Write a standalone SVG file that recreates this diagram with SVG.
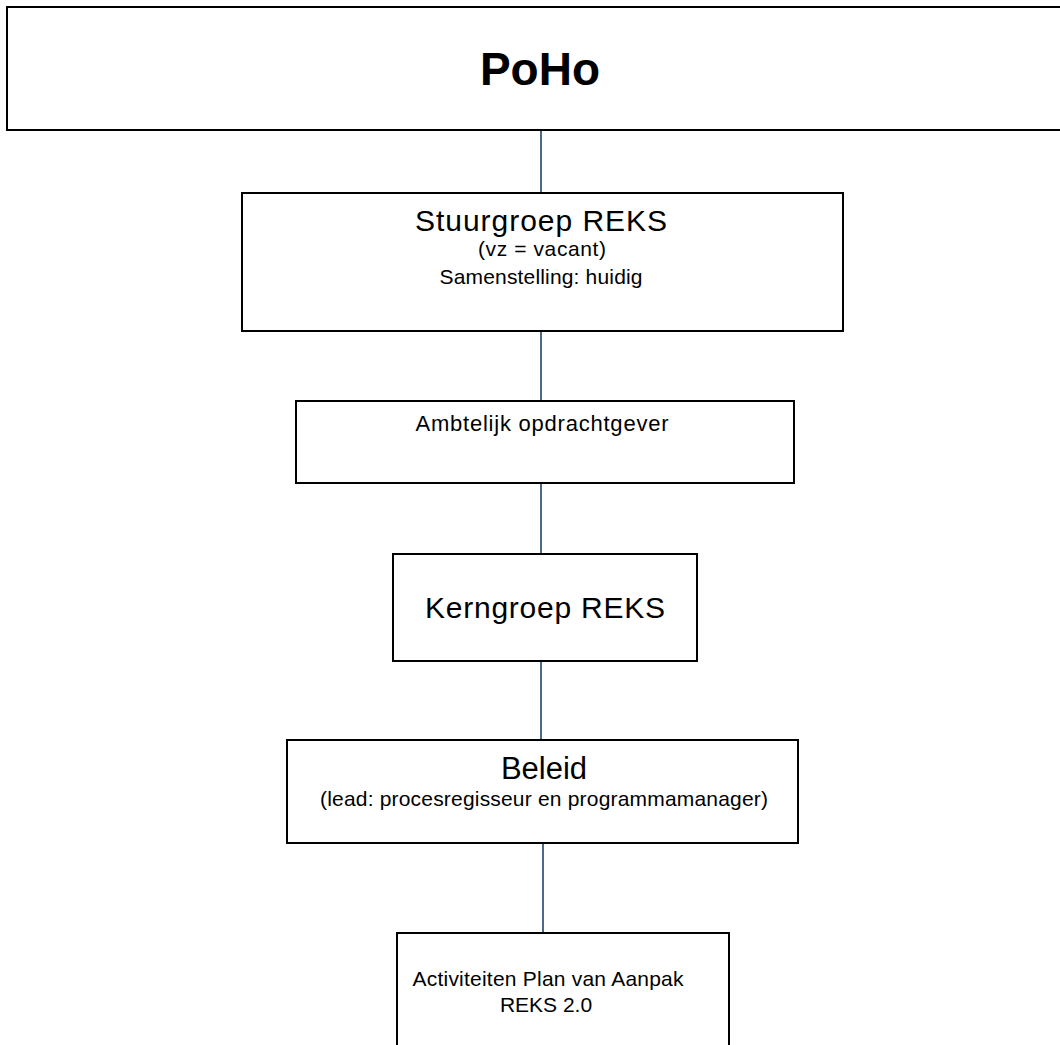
<svg xmlns="http://www.w3.org/2000/svg" width="1060" height="1045" viewBox="0 0 1060 1045">
<style>
.box{fill:#ffffff;stroke:#000000;stroke-width:2}
.t{font-family:"Liberation Sans",Arial,sans-serif;fill:#000000;text-anchor:middle}
.conn{stroke:#4a6a8a;stroke-width:2;fill:none}
</style>
<rect width="1060" height="1045" fill="#ffffff"/>
<g id="connectors">
<line class="conn" x1="541" y1="130" x2="541" y2="193"/>
<line class="conn" x1="541" y1="331" x2="541" y2="401"/>
<line class="conn" x1="541" y1="483" x2="541" y2="554"/>
<line class="conn" x1="541" y1="661" x2="541" y2="740"/>
<line class="conn" x1="543" y1="843" x2="543" y2="933"/>
</g>
<g id="poho">
<rect class="box" x="7" y="7" width="1060" height="123"/>
<text class="t" x="540" y="85" font-size="46" font-weight="bold">PoHo</text>
</g>
<g id="stuurgroep">
<rect class="box" x="242" y="193" width="601" height="138"/>
<text class="t" x="541" y="231" font-size="30" textLength="252" lengthAdjust="spacing">Stuurgroep REKS</text>
<text class="t" x="542" y="256" font-size="21" textLength="128" lengthAdjust="spacing">(vz = vacant)</text>
<text class="t" x="541" y="284" font-size="21" textLength="203" lengthAdjust="spacing">Samenstelling: huidig</text>
</g>
<g id="ambtelijk">
<rect class="box" x="296" y="401" width="498" height="82"/>
<text class="t" x="542" y="431" font-size="22" textLength="253" lengthAdjust="spacing">Ambtelijk opdrachtgever</text>
</g>
<g id="kerngroep">
<rect class="box" x="393" y="554" width="304" height="107"/>
<text class="t" x="545" y="618" font-size="30" textLength="240" lengthAdjust="spacing">Kerngroep REKS</text>
</g>
<g id="beleid">
<rect class="box" x="287" y="740" width="511" height="103"/>
<text class="t" x="544" y="779" font-size="31">Beleid</text>
<text class="t" x="544" y="806" font-size="21" textLength="448" lengthAdjust="spacing">(lead: procesregisseur en programmamanager)</text>
</g>
<g id="activiteiten">
<rect class="box" x="397" y="933" width="332" height="130"/>
<text class="t" x="548" y="986" font-size="21" textLength="271" lengthAdjust="spacing">Activiteiten Plan van Aanpak</text>
<text class="t" x="546" y="1012" font-size="21">REKS 2.0</text>
</g>
</svg>
